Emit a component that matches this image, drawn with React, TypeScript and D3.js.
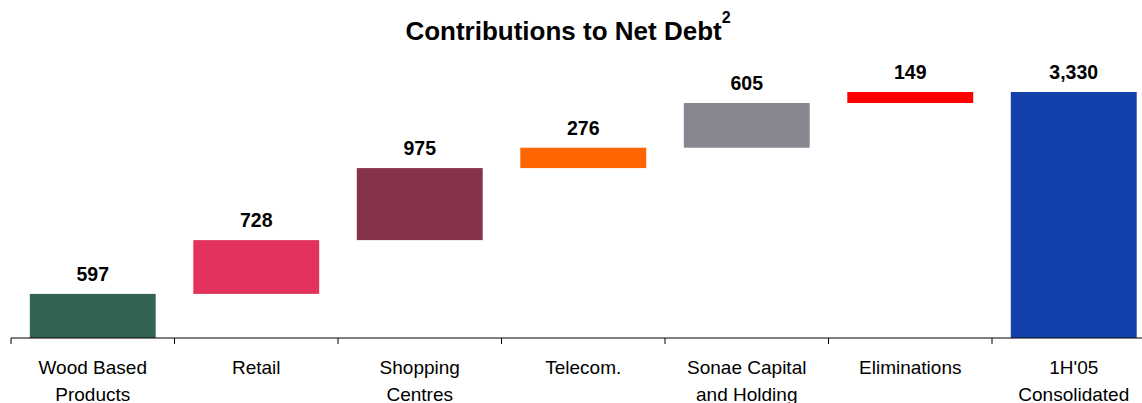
import React from "react";
import * as d3 from "d3";

const categories: string[][] = [
  ["Wood Based", "Products"],
  ["Retail"],
  ["Shopping", "Centres"],
  ["Telecom."],
  ["Sonae Capital", "and Holding"],
  ["Eliminations"],
  ["1H'05", "Consolidated"],
];
const values: number[] = [597, 728, 975, 276, 605, 149, 3330];
const isTotal: boolean[] = [false, false, false, false, false, false, true];
const valueLabels: string[] = ["597", "728", "975", "276", "605", "149", "3,330"];
const colors: string[] = ["#336355", "#E3335C", "#86334A", "#FF6600", "#87888F", "#FF0000", "#1241AB"];

const W = 1142;
const H = 403;
const FONT = "'Liberation Sans', Arial, Helvetica, sans-serif";

export default function App() {
  const keys = categories.map((_, i) => String(i));
  const step = 163.5;
  const x0 = 11;
  const x = d3
    .scaleBand<string>()
    .domain(keys)
    .range([x0, x0 + step * keys.length])
    .paddingInner(0.23)
    .paddingOuter(0.115);
  const y = d3.scaleLinear().domain([0, 3330]).range([338, 92]);

  let cum = 0;
  const bars = values.map((v, i) => {
    let lo: number, hi: number;
    if (isTotal[i]) {
      lo = 0;
      hi = v;
    } else {
      lo = cum;
      hi = cum + v;
      cum = hi;
    }
    return { i, lo, hi };
  });

  const axisY = y(0);
  const ticks = d3.range(keys.length + 1).map((i) => x0 + i * step);

  return (
    <div style={{ position: "fixed", left: 0, top: 0, width: W, height: H, background: "#fff" }}>
      <svg width={W} height={H} style={{ display: "block" }}>
        <text
          x={568}
          y={40}
          textAnchor="middle"
          fontFamily={FONT}
          fontWeight="bold"
          fontSize={26}
          fill="#000"
        >
          Contributions to Net Debt
          <tspan fontSize={16} dy={-17}>2</tspan>
        </text>
        {bars.map((b) => (
          <rect
            key={b.i}
            x={x(String(b.i))}
            width={x.bandwidth()}
            y={y(b.hi)}
            height={y(b.lo) - y(b.hi)}
            fill={colors[b.i]}
          />
        ))}
        {bars.map((b) => (
          <text
            key={"v" + b.i}
            x={(x(String(b.i)) as number) + x.bandwidth() / 2}
            y={y(b.hi) - 13}
            textAnchor="middle"
            fontFamily={FONT}
            fontWeight="bold"
            fontSize={19.5}
            fill="#000"
          >
            {valueLabels[b.i]}
          </text>
        ))}
        <line x1={x0} x2={W} y1={axisY} y2={axisY} stroke="#000" strokeWidth={1} />
        {ticks.map((t, i) => (
          <line key={"t" + i} x1={t} x2={t} y1={axisY} y2={axisY + 6} stroke="#000" strokeWidth={1} />
        ))}
        {categories.map((lines, i) => (
          <text
            key={"c" + i}
            x={(x(String(i)) as number) + x.bandwidth() / 2}
            y={374}
            textAnchor="middle"
            fontFamily={FONT}
            fontSize={19}
            fill="#000"
          >
            {lines.map((l, j) => (
              <tspan key={j} x={(x(String(i)) as number) + x.bandwidth() / 2} dy={j === 0 ? 0 : 27}>
                {l}
              </tspan>
            ))}
          </text>
        ))}
      </svg>
    </div>
  );
}
